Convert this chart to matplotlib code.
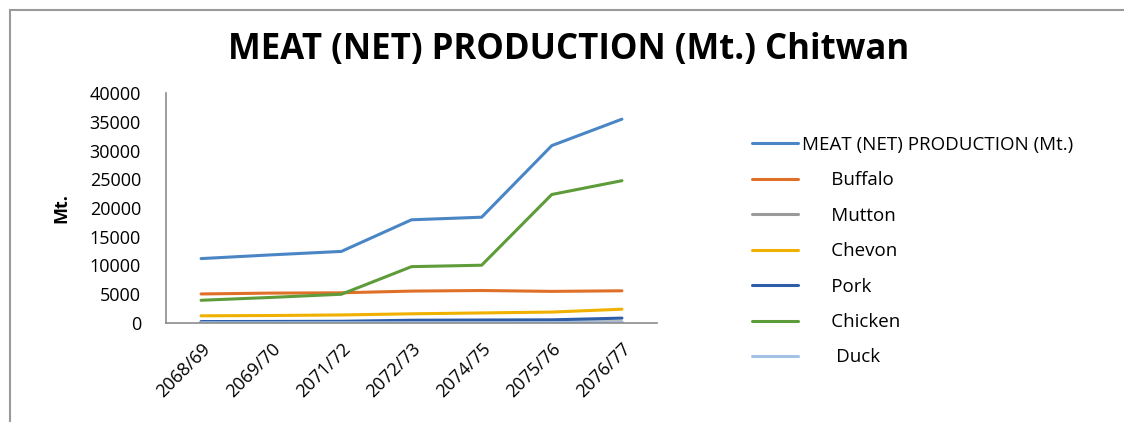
import matplotlib
matplotlib.use("Agg")
import matplotlib.pyplot as plt
from matplotlib.patches import Rectangle

years = ["2068/69", "2069/70", "2071/72", "2072/73", "2074/75", "2075/76", "2076/77"]
series_names = ["MEAT (NET) PRODUCTION (Mt.)", "Buffalo", "Mutton", "Chevon", "Pork", "Chicken", "Duck"]
meat_total = [11200, 11850, 12450, 17950, 18400, 30850, 35450]
buffalo = [5050, 5200, 5250, 5550, 5650, 5500, 5600]
mutton = [120, 130, 140, 150, 160, 170, 200]
chevon = [1250, 1300, 1400, 1600, 1750, 1900, 2400]
pork = [250, 270, 300, 480, 520, 550, 850]
chicken = [3950, 4450, 5000, 9800, 10050, 22350, 24750]
duck = [40, 40, 45, 50, 50, 55, 60]
yticks = [0, 5000, 10000, 15000, 20000, 25000, 30000, 35000, 40000]

colors = ["#4a86c5", "#e07028", "#9a9a9a", "#f0b000", "#2f5ea8", "#5e9c3a", "#a4c2e6"]
all_series = [meat_total, buffalo, mutton, chevon, pork, chicken, duck]

plt.rcParams['font.family'] = ['Open Sans', 'DejaVu Sans']

fig = plt.figure(figsize=(11.24, 4.22), dpi=100)
# outer chart frame (top and left edges visible)
fig.patches.append(Rectangle((10 / 1124, -0.1), 1.2, (422 - 10) / 422 + 0.1,
                             transform=fig.transFigure, fill=False,
                             edgecolor="#9a9a9a", linewidth=1.5))

ax = fig.add_axes([166 / 1124, 1 - 323 / 422, (657 - 166) / 1124, (323 - 93) / 422])
x = list(range(len(years)))
for name, vals, c in zip(series_names, all_series, colors):
    ax.plot(x, vals, color=c, linewidth=2.2, label=name, solid_capstyle="round")

ax.set_xlim(-0.5, len(years) - 0.5)
ax.set_ylim(0, 40000)
ax.set_yticks(yticks)
ax.set_yticklabels([str(v) for v in yticks], fontsize=13)
ax.set_xticks(x)
ax.set_xticklabels(years, rotation=45, ha="right", rotation_mode="anchor", fontsize=13)
ax.tick_params(length=0, pad=18)
ax.tick_params(axis="x", pad=12)
for s in ["top", "right"]:
    ax.spines[s].set_visible(False)
for s in ["left", "bottom"]:
    ax.spines[s].set_color("#8c8c8c")
    ax.spines[s].set_linewidth(1.2)

ax.set_ylabel("Mt.", fontsize=13, fontweight="bold", labelpad=14)

fig.text(569 / 1124, 1 - 50 / 422, "MEAT (NET) PRODUCTION (Mt.) Chitwan",
         ha="center", va="center", fontsize=25, fontweight="bold")

handles, labels = ax.get_legend_handles_labels()
labels = [labels[0]] + ["      " + l for l in labels[1:-1]] + ["       " + labels[-1]]
leg = ax.legend(handles, labels, loc="upper left", bbox_to_anchor=(735 / 1124, 1 - 119 / 422),
                bbox_transform=fig.transFigure, frameon=False, fontsize=13.5,
                handlelength=2.45, handletextpad=0.2, labelspacing=0.93)

fig.savefig("out.png", dpi=100)
